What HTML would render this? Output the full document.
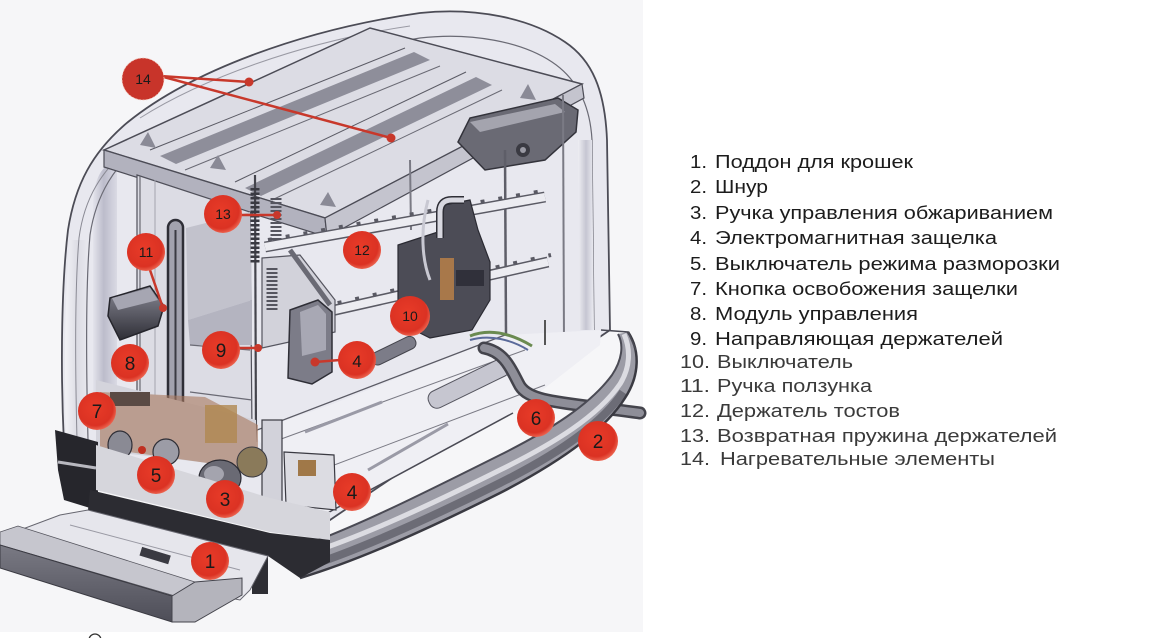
<!DOCTYPE html>
<html><head><meta charset="utf-8"><style>
html,body{margin:0;padding:0;background:#fff;width:1167px;height:638px;overflow:hidden}
svg{display:block}
.lb{font-family:"Liberation Sans",Arial,sans-serif;font-size:18px;fill:#1c1c1c}
.lg{font-family:"Liberation Sans",Arial,sans-serif;font-size:18px;fill:#3a3a3a}
.cn{font-family:"Liberation Sans",Arial,sans-serif;font-size:19px;fill:#1a1a1a;text-anchor:middle}
.cs{font-family:"Liberation Sans",Arial,sans-serif;font-size:14px;fill:#1a1a1a;text-anchor:middle}
</style></head><body>
<svg width="1167" height="638" viewBox="0 0 1167 638" xmlns="http://www.w3.org/2000/svg">
<defs>
 <radialGradient id="rc" cx="45%" cy="42%" r="60%">
  <stop offset="0" stop-color="#e83b28"/><stop offset="0.78" stop-color="#db3223"/><stop offset="1" stop-color="#ee6a55"/>
 </radialGradient>
 <linearGradient id="bar" x1="0" y1="0" x2="0" y2="1">
  <stop offset="0" stop-color="#7a7a84"/><stop offset="1" stop-color="#4e4e58"/>
 </linearGradient>
 <linearGradient id="lrim" x1="0" y1="0" x2="1" y2="0">
  <stop offset="0" stop-color="#f2f2f6"/><stop offset="0.5" stop-color="#dcdce4"/><stop offset="1" stop-color="#ebebf1"/>
 </linearGradient>
 <linearGradient id="gstripe" x1="0" y1="0" x2="1" y2="0">
  <stop offset="0" stop-color="#e4e4ec"/><stop offset="0.45" stop-color="#bcbccb"/><stop offset="1" stop-color="#dadae4"/>
 </linearGradient>
 <linearGradient id="rstripe" x1="0" y1="0" x2="1" y2="0">
  <stop offset="0" stop-color="#eeeef3"/><stop offset="0.5" stop-color="#c6c6d2"/><stop offset="1" stop-color="#ececf2"/>
 </linearGradient>
 <linearGradient id="lev" x1="0" y1="0" x2="0" y2="1">
  <stop offset="0" stop-color="#8a8a96"/><stop offset="1" stop-color="#2e2e36"/>
 </linearGradient>
</defs>

<rect x="0" y="0" width="643" height="632" fill="#f6f6f8"/>

<!-- shell -->
<path d="M 64,445 C 60,360 62,280 68,230 C 75,185 92,152 128,122 C 190,72 300,30 420,13 C 475,7 530,18 565,42 C 592,60 605,90 607,140 L 610,330 L 330,520 Z" fill="#e8e8ef" stroke="#4c4c56" stroke-width="1.8"/>
<path d="M 66,440 C 64,360 65,290 70,240 L 90,240 C 88,290 87,360 90,440 Z" fill="url(#lrim)"/>
<path d="M 93,425 L 93,200 C 95,180 100,170 108,165 L 117,165 L 117,425 Z" fill="url(#gstripe)"/>
<path d="M 88,440 C 86,360 86,280 90,235 C 96,195 114,165 148,138 C 210,96 310,56 420,38 C 472,32 522,42 552,62 C 576,78 590,104 592,140 L 594,330" fill="none" stroke="#6a6a74" stroke-width="1.2"/>
<path d="M 77,440 C 75,360 75,285 79,238 C 84,200 100,170 136,142" fill="none" stroke="#8a8a94" stroke-width="1"/>
<path d="M 578,140 L 580,330 L 594,330 L 592,140 Z" fill="url(#rstripe)"/>
<path d="M 140,118 C 200,80 300,42 410,26" fill="none" stroke="#9a9aa4" stroke-width="1"/>

<!-- top plate -->
<polygon points="104,150 370,28 582,84 325,218" fill="#dcdce4" stroke="#4c4c56" stroke-width="1.5"/>
<polygon points="104,150 325,218 327,237 104,167" fill="#b2b2be" stroke="#4c4c56" stroke-width="1.2"/>
<polygon points="325,218 582,84 584,98 327,237" fill="#c4c4ce" stroke="#4c4c56" stroke-width="1.2"/>
<polygon points="160,156 176,164 430,60 414,52" fill="#8e8e9a"/>
<polygon points="245,188 261,196 492,85 476,77" fill="#8e8e9a"/>
<line x1="150" y1="150" x2="405" y2="48" stroke="#5a5a64" stroke-width="1"/>
<line x1="235" y1="182" x2="466" y2="72" stroke="#5a5a64" stroke-width="1"/>
<line x1="185" y1="170" x2="440" y2="66" stroke="#6a6a74" stroke-width="1"/>
<line x1="272" y1="200" x2="502" y2="90" stroke="#6a6a74" stroke-width="1"/>
<polygon points="140,145 148,132 156,148" fill="#8a8a96"/>
<polygon points="210,168 218,155 226,170" fill="#8a8a96"/>
<polygon points="320,205 328,192 336,207" fill="#8a8a96"/>
<polygon points="520,98 528,84 536,100" fill="#8a8a96"/>

<!-- bracket upper right -->
<path d="M 458,142 L 470,118 L 558,98 L 578,110 L 576,132 L 545,160 L 485,170 Z" fill="#6a6a74" stroke="#33333b" stroke-width="1.5"/>
<path d="M 470,122 L 555,104 L 565,112 L 480,132 Z" fill="#a4a4ae"/>
<circle cx="523" cy="150" r="7" fill="#3a3a42"/><circle cx="523" cy="150" r="3" fill="#9a9aa4"/>

<!-- right rods -->
<line x1="505" y1="150" x2="506" y2="335" stroke="#5e5e68" stroke-width="2.5"/>
<line x1="563" y1="95" x2="564" y2="345" stroke="#7a7a84" stroke-width="2"/>
<line x1="410" y1="160" x2="411" y2="230" stroke="#7a7a84" stroke-width="2"/>

<!-- floor -->
<polygon points="252,432 320,517 513,413 600,345 601,330 505,335 330,405" fill="#efeff4"/>
<line x1="252" y1="432" x2="505" y2="335" stroke="#5a5a64" stroke-width="1.3"/>
<line x1="262" y1="446" x2="525" y2="350" stroke="#7a7a84" stroke-width="1"/>
<line x1="300" y1="478" x2="545" y2="385" stroke="#7a7a84" stroke-width="1"/>
<line x1="320" y1="517" x2="513" y2="413" stroke="#4a4a54" stroke-width="1.5"/>
<g transform="rotate(-26 392 352)"><rect x="370" y="345" width="48" height="13" rx="6" fill="#7c7c88" stroke="#44444c"/></g>
<g transform="rotate(-26 468 384)"><rect x="425" y="375" width="88" height="18" rx="8" fill="#c6c6d0" stroke="#55555f"/></g>
<line x1="305" y1="432" x2="382" y2="402" stroke="#9a9aa6" stroke-width="3"/>
<line x1="368" y1="470" x2="448" y2="424" stroke="#9a9aa6" stroke-width="3"/>

<!-- rack (toast holders) -->
<path d="M 265,247 L 545,197" stroke="#5a5a64" stroke-width="11" fill="none"/>
<path d="M 265,247 L 545,197" stroke="#ececf1" stroke-width="8" fill="none"/>
<path d="M 268,240 L 548,190" stroke="#5a5a64" stroke-width="4" stroke-dasharray="4 14" fill="none"/>
<path d="M 282,322 L 548,262" stroke="#5a5a64" stroke-width="11" fill="none"/>
<path d="M 282,322 L 548,262" stroke="#ececf1" stroke-width="8" fill="none"/>
<path d="M 285,315 L 551,255" stroke="#5a5a64" stroke-width="4" stroke-dasharray="4 14" fill="none"/>

<!-- left chassis -->
<polygon points="137,175 250,212 252,432 137,425" fill="#dcdce4" stroke="#50505a" stroke-width="1.2"/>
<polygon points="186,228 250,212 252,300 188,320" fill="#c2c2cc"/>
<polygon points="188,320 252,300 252,345 190,345" fill="#b4b4c0"/>
<line x1="140" y1="176" x2="140" y2="425" stroke="#6a6a74" stroke-width="1.2"/>
<line x1="155" y1="180" x2="155" y2="425" stroke="#a4a4ae" stroke-width="1"/>
<polygon points="262,258 300,255 335,300 335,332 262,348" fill="#d2d2da" stroke="#55555f" stroke-width="1.2"/>
<line x1="290" y1="250" x2="330" y2="305" stroke="#6a6a74" stroke-width="5"/>
<line x1="190" y1="345" x2="250" y2="350" stroke="#6a6a74" stroke-width="1.2"/>
<line x1="190" y1="392" x2="252" y2="400" stroke="#6a6a74" stroke-width="1.2"/>

<!-- spring rod -->
<line x1="255" y1="175" x2="256" y2="442" stroke="#44444c" stroke-width="2.2"/>
<line x1="255" y1="188" x2="255" y2="264" stroke="#3a3a42" stroke-width="9" stroke-dasharray="2.5 2"/>
<line x1="276" y1="198" x2="276" y2="240" stroke="#55555f" stroke-width="11" stroke-dasharray="2 2"/>
<line x1="272" y1="268" x2="272" y2="312" stroke="#55555f" stroke-width="11" stroke-dasharray="2 2"/>

<!-- handle slot -->
<rect x="168" y="220" width="15" height="198" rx="7.5" fill="#a2a2ae" stroke="#2e2e36" stroke-width="2.5"/>
<line x1="175.5" y1="230" x2="175.5" y2="408" stroke="#3a3a42" stroke-width="2"/>

<!-- lever -->
<path d="M 108,316 L 110,298 L 150,286 L 164,306 L 158,326 L 120,340 Z" fill="url(#lev)" stroke="#25252c" stroke-width="1.5"/>
<path d="M 112,298 L 150,288 L 158,300 L 118,310 Z" fill="#a6a6b2"/>

<!-- electromagnet (4 upper) -->
<polygon points="290,310 318,300 332,312 332,372 312,384 288,378" fill="#7c7c88" stroke="#2e2e36" stroke-width="1.5"/>
<polygon points="300,312 318,305 326,314 326,350 302,356" fill="#a8a8b4"/>

<!-- switch assembly (10) -->
<polygon points="398,245 438,232 444,205 470,200 478,230 490,262 490,300 472,330 430,338 398,322" fill="#4c4c56" stroke="#2a2a32" stroke-width="1.2"/>
<path d="M 440,238 L 440,212 Q 440,200 452,200 L 464,200" fill="none" stroke="#2e2e36" stroke-width="8"/>
<path d="M 440,238 L 440,212 Q 440,200 452,200 L 464,200" fill="none" stroke="#d8d8e0" stroke-width="5"/>
<rect x="440" y="258" width="14" height="42" fill="#a8784a"/>
<rect x="456" y="270" width="28" height="16" fill="#30303a"/>
<path d="M 428,200 C 420,230 422,260 430,280" fill="none" stroke="#c8c8d2" stroke-width="3"/>

<!-- cord and wires -->
<path d="M 470,336 C 490,328 512,334 532,346" fill="none" stroke="#6a8a50" stroke-width="3"/>
<path d="M 470,340 C 490,334 512,340 528,350" fill="none" stroke="#5a6a9a" stroke-width="2"/>
<path d="M 484,348 C 506,352 512,372 520,386 C 530,402 560,402 640,413" fill="none" stroke="#44444c" stroke-width="13" stroke-linecap="round"/>
<path d="M 484,348 C 506,352 512,372 520,386 C 530,402 560,402 640,413" fill="none" stroke="#8e8e98" stroke-width="8" stroke-linecap="round"/>
<line x1="545" y1="320" x2="545" y2="345" stroke="#555" stroke-width="2"/>

<!-- base rail -->
<path d="M 300,578 C 360,560 430,528 500,493 C 560,462 605,430 625,398 C 640,375 640,350 628,332 L 618,334 C 624,345 622,360 612,375 C 590,405 550,430 500,455 C 430,490 370,520 318,540 Z" fill="#9c9ca6"/>
<path d="M 303,568 C 362,549 430,518 500,483 C 558,454 602,424 623,392" fill="none" stroke="#6c6c76" stroke-width="8"/>
<path d="M 310,553 C 365,535 430,505 500,470 C 555,443 598,416 620,384 C 630,368 631,350 624,334" fill="none" stroke="#dcdce2" stroke-width="5"/>
<path d="M 318,540 C 370,520 430,490 500,455 C 550,430 590,405 612,375 C 622,360 624,345 618,334" fill="none" stroke="#4a4a54" stroke-width="2"/>
<path d="M 300,578 C 360,560 430,528 500,493 C 560,462 605,430 625,398 C 640,375 640,350 628,332" fill="none" stroke="#3a3a42" stroke-width="2.5"/>
<path d="M 601,330 L 628,332 L 636,350" fill="none" stroke="#4a4a54" stroke-width="1.5"/>

<!-- components bottom left -->
<polygon points="96,380 256,420 258,470 200,462 96,450" fill="#d4d4dc"/>
<polygon points="100,392 205,397 258,425 258,470 200,462 100,448" fill="#a8785e" opacity="0.6"/>
<rect x="110" y="392" width="40" height="14" fill="#5a4a44"/>
<rect x="205" y="405" width="32" height="38" fill="#b08850" opacity="0.8"/>
<ellipse cx="120" cy="445" rx="12" ry="14" fill="#8a8a94" stroke="#2e2e36" stroke-width="1.2"/>
<ellipse cx="166" cy="452" rx="13" ry="13" fill="#9c9ca6" stroke="#2e2e36" stroke-width="1.2"/>
<circle cx="142" cy="450" r="4" fill="#c03020"/>
<rect x="262" y="420" width="20" height="82" fill="#d2d2da" stroke="#3a3a42" stroke-width="1.2"/>
<ellipse cx="252" cy="462" rx="15" ry="15" fill="#8a7a5a" stroke="#3a3a42"/>
<ellipse cx="220" cy="478" rx="21" ry="18" fill="#6a6a74" stroke="#2a2a32" stroke-width="1.2"/>
<ellipse cx="214" cy="474" rx="10" ry="8" fill="#a4a4ae"/>
<polygon points="284,452 334,455 336,510 286,505" fill="#dcdce2" stroke="#3a3a42" stroke-width="1.2"/>
<rect x="298" y="460" width="18" height="16" fill="#a07848"/>

<!-- base front -->
<polygon points="55,430 98,442 98,492 90,508 64,500 58,470" fill="#26262c"/>
<line x1="58" y1="462" x2="96" y2="468" stroke="#b8b8c0" stroke-width="3"/>
<polygon points="96,445 270,498 330,512 330,540 270,532 96,490" fill="#d6d6dc"/>
<polygon points="90,490 270,533 330,540 330,562 300,578 268,556 88,510" fill="#2c2c32"/>
<rect x="252" y="556" width="16" height="38" fill="#2e2e34"/>

<!-- tray -->
<polygon points="60,515 88,510 268,556 250,590 240,600 190,590 20,530" fill="#e6e6ec" stroke="#66666f" stroke-width="1"/>
<line x1="70" y1="525" x2="240" y2="570" stroke="#9a9aa4" stroke-width="1"/>
<g transform="rotate(17 155 556)"><rect x="140" y="551" width="30" height="9" fill="#3a3a42"/></g>
<polygon points="0,532 18,526 195,582 175,596 0,545" fill="#c6c6ce" stroke="#55555e" stroke-width="0.8"/>
<polygon points="0,545 172,596 172,622 0,568" fill="url(#bar)" stroke="#3a3a42" stroke-width="1"/>
<polygon points="172,596 195,582 242,578 242,595 195,622 172,622" fill="#b4b4bc" stroke="#44444c" stroke-width="1"/>

<!-- tiny partial O -->
<ellipse cx="95" cy="640" rx="6" ry="6" fill="none" stroke="#333" stroke-width="1.3"/>

<!-- leader lines -->
<g stroke="#c8382b" stroke-width="2.5" fill="none">
 <line x1="160" y1="76" x2="249" y2="82"/>
 <line x1="160" y1="76" x2="391" y2="138"/>
 <line x1="238" y1="215" x2="277" y2="215"/>
 <line x1="150" y1="270" x2="163" y2="308"/>
 <line x1="237" y1="348" x2="258" y2="348"/>
 <line x1="315" y1="362" x2="340" y2="360"/>
</g>
<g fill="#c8382b">
 <circle cx="249" cy="82" r="4.5"/><circle cx="391" cy="138" r="4.5"/>
 <circle cx="277" cy="215" r="4"/><circle cx="163" cy="308" r="4"/>
 <circle cx="258" cy="348" r="4"/><circle cx="315" cy="362" r="4.5"/>
</g>

<!-- circles -->
<circle cx="143" cy="79" r="21" fill="#c8342a" stroke="#f2c8bc" stroke-width="0.8" stroke-dasharray="2 1.5"/>
<text x="143" y="84" class="cs">14</text>
<g fill="url(#rc)">
 <circle cx="223" cy="214" r="19"/><circle cx="146" cy="252" r="19"/>
 <circle cx="362" cy="250" r="19"/><circle cx="410" cy="316" r="20"/>
 <circle cx="221" cy="350" r="19"/><circle cx="357" cy="360" r="19"/>
 <circle cx="130" cy="363" r="19"/><circle cx="97" cy="411" r="19"/>
 <circle cx="536" cy="418" r="19"/><circle cx="598" cy="441" r="20"/>
 <circle cx="156" cy="475" r="19"/><circle cx="225" cy="499" r="19"/>
 <circle cx="352" cy="492" r="19"/><circle cx="210" cy="561" r="19"/>
</g>
<text x="223" y="219" class="cs">13</text>
<text x="146" y="257" class="cs">11</text>
<text x="362" y="255" class="cs">12</text>
<text x="410" y="321" class="cs">10</text>
<text x="221" y="357" class="cn">9</text>
<text x="357" y="367" class="cn" style="font-size:17px">4</text>
<text x="130" y="370" class="cn">8</text>
<text x="97" y="418" class="cn">7</text>
<text x="536" y="425" class="cn">6</text>
<text x="598" y="448" class="cn">2</text>
<text x="156" y="482" class="cn">5</text>
<text x="225" y="506" class="cn">3</text>
<text x="352" y="499" class="cn">4</text>
<text x="210" y="568" class="cn">1</text>

<!-- legend -->
<g>
 <text x="690" y="168" class="lb" textLength="17" lengthAdjust="spacingAndGlyphs">1.</text>
 <text x="715" y="168" class="lb" textLength="198" lengthAdjust="spacingAndGlyphs">Поддон для крошек</text>
 <text x="690" y="193" class="lb" textLength="17" lengthAdjust="spacingAndGlyphs">2.</text>
 <text x="715" y="193" class="lb" textLength="53" lengthAdjust="spacingAndGlyphs">Шнур</text>
 <text x="690" y="219" class="lb" textLength="17" lengthAdjust="spacingAndGlyphs">3.</text>
 <text x="715" y="219" class="lb" textLength="338" lengthAdjust="spacingAndGlyphs">Ручка управления обжариванием</text>
 <text x="690" y="244" class="lb" textLength="17" lengthAdjust="spacingAndGlyphs">4.</text>
 <text x="715" y="244" class="lb" textLength="282" lengthAdjust="spacingAndGlyphs">Электромагнитная защелка</text>
 <text x="690" y="270" class="lb" textLength="17" lengthAdjust="spacingAndGlyphs">5.</text>
 <text x="715" y="270" class="lb" textLength="345" lengthAdjust="spacingAndGlyphs">Выключатель режима разморозки</text>
 <text x="690" y="295" class="lb" textLength="17" lengthAdjust="spacingAndGlyphs">7.</text>
 <text x="715" y="295" class="lb" textLength="303" lengthAdjust="spacingAndGlyphs">Кнопка освобожения защелки</text>
 <text x="690" y="320" class="lb" textLength="17" lengthAdjust="spacingAndGlyphs">8.</text>
 <text x="715" y="320" class="lb" textLength="203" lengthAdjust="spacingAndGlyphs">Модуль управления</text>
 <text x="690" y="345" class="lb" textLength="17" lengthAdjust="spacingAndGlyphs">9.</text>
 <text x="715" y="345" class="lb" textLength="288" lengthAdjust="spacingAndGlyphs">Направляющая держателей</text>
 <text x="680" y="368" class="lg" textLength="30" lengthAdjust="spacingAndGlyphs">10.</text>
 <text x="717" y="368" class="lg" textLength="136" lengthAdjust="spacingAndGlyphs">Выключатель</text>
 <text x="680" y="392" class="lg" textLength="30" lengthAdjust="spacingAndGlyphs">11.</text>
 <text x="717" y="392" class="lg" textLength="155" lengthAdjust="spacingAndGlyphs">Ручка ползунка</text>
 <text x="680" y="417" class="lg" textLength="30" lengthAdjust="spacingAndGlyphs">12.</text>
 <text x="717" y="417" class="lg" textLength="183" lengthAdjust="spacingAndGlyphs">Держатель тостов</text>
 <text x="680" y="442" class="lg" textLength="30" lengthAdjust="spacingAndGlyphs">13.</text>
 <text x="717" y="442" class="lg" textLength="340" lengthAdjust="spacingAndGlyphs">Возвратная пружина держателей</text>
 <text x="680" y="465" class="lg" textLength="30" lengthAdjust="spacingAndGlyphs">14.</text>
 <text x="720" y="465" class="lg" textLength="275" lengthAdjust="spacingAndGlyphs">Нагревательные элементы</text>
</g>
</svg>
</body></html>
